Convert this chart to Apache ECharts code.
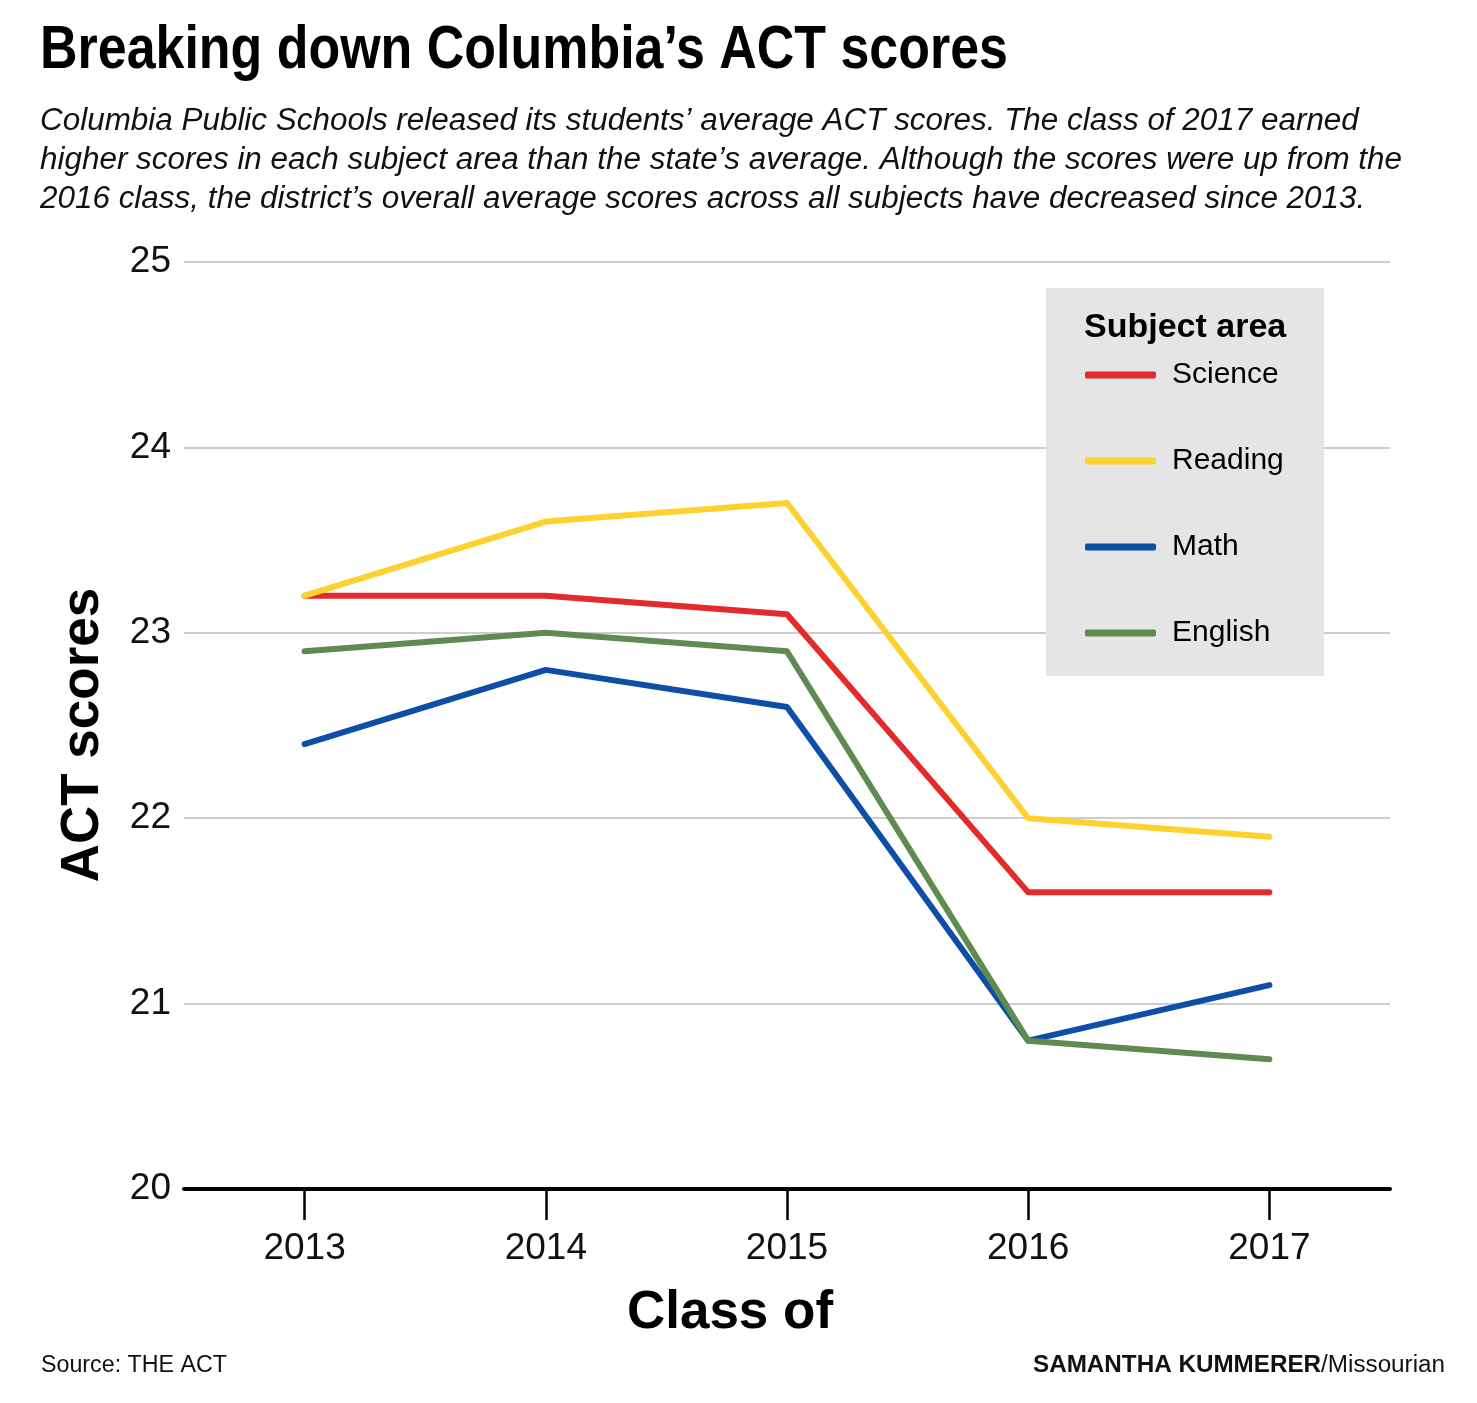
<!DOCTYPE html>
<html>
<head>
<meta charset="utf-8">
<script src="https://cdn.jsdelivr.net/npm/echarts@6/dist/echarts.min.js"></script>
<style>
html,body{margin:0;padding:0;background:#fff;}
#c{width:1477px;height:1403px;}
</style>
</head>
<body>
<div id="c"></div>
<script>
const years = ['2013', '2014', '2015', '2016', '2017'];
const science = [23.2, 23.2, 23.1, 21.6, 21.6];
const reading = [23.2, 23.6, 23.7, 22.0, 21.9];
const math = [22.4, 22.8, 22.6, 20.8, 21.1];
const english = [22.9, 23.0, 22.9, 20.8, 20.7];
const yTicks = [20, 21, 22, 23, 24, 25];

const titleText = 'Breaking down Columbia\u2019s ACT scores';
const subLines = [
  'Columbia Public Schools released its students\u2019 average ACT scores. The class of 2017 earned',
  'higher scores in each subject area than the state\u2019s average. Although the scores were up from the',
  '2016 class, the district\u2019s overall average scores across all subjects have decreased since 2013.'
];
const sourceText = 'Source: THE ACT';
const creditBold = 'SAMANTHA KUMMERER';
const creditRest = '/Missourian';

const SANS = '"Liberation Sans", Arial, sans-serif';

// measure text to compress it horizontally (condensed typeface look)
const mctx = document.createElement('canvas').getContext('2d');
function measure(text, font) { mctx.font = font; return mctx.measureText(text).width; }
function fitScale(text, font, target) { return target / measure(text, font); }

const titleFont = 'bold 61px "Liberation Sans"';
const titleScale = fitScale(titleText, titleFont, 968);
const subFont = 'italic 31px "Liberation Sans"';
const subScale = fitScale(subLines[1], subFont, 1362);
const srcFont = '23px "Liberation Sans"';
const srcScale = fitScale(sourceText, srcFont, 186);
const credW = measure(creditBold, 'bold 23px "Liberation Sans"') + measure(creditRest, srcFont);
const credScale = 412 / credW;

const chart = echarts.init(document.getElementById('c'), null, {renderer: 'canvas'});

function mk(name, data, color) {
  return {
    name: name, type: 'line', data: data, symbol: 'none', smooth: false,
    lineStyle: {color: color, width: 6, cap: 'round', join: 'round'},
    itemStyle: {color: color}, z: 3
  };
}

chart.setOption({
  backgroundColor: '#ffffff',
  animation: false,
  title: [
    {text: 'Subject area', left: 1079, top: 306, z: 6,
     textStyle: {fontFamily: SANS, fontWeight: 'bold', fontSize: 34, color: '#000'}}
  ],
  graphic: [
    {type: 'rect', shape: {x: 1046, y: 288, width: 278, height: 388}, style: {fill: '#e4e5e4'}, z: 1},
    {type: 'text', x: 40, y: 51, scaleX: titleScale, originX: 0,
     style: {text: titleText, font: titleFont, fill: '#000', textAlign: 'left', textVerticalAlign: 'middle'}},
    {type: 'text', x: 40, y: 121, scaleX: subScale,
     style: {text: subLines.join('\n'), font: subFont, lineHeight: 39, fill: '#111', textAlign: 'left', textVerticalAlign: 'top', y: -19}},
    {type: 'text', x: 41, y: 1366, scaleX: srcScale,
     style: {text: sourceText, font: srcFont, fill: '#111', textAlign: 'left', textVerticalAlign: 'middle'}},
    {type: 'text', x: 1445, y: 1366, scaleX: credScale,
     style: {text: '{b|' + creditBold + '}{n|' + creditRest + '}', textAlign: 'right', textVerticalAlign: 'middle',
       rich: {b: {fontFamily: SANS, fontWeight: 'bold', fontSize: 23, fill: '#111'},
              n: {fontFamily: SANS, fontWeight: 'normal', fontSize: 23, fill: '#111'}}}},
    {type: 'text', x: 83, y: 735, rotation: Math.PI / 2,
     style: {text: 'ACT scores', font: 'bold 53px "Liberation Sans"', fill: '#000', textAlign: 'center', textVerticalAlign: 'middle'}},
    {type: 'text', x: 730, y: 1313,
     style: {text: 'Class of', font: 'bold 53px "Liberation Sans"', fill: '#000', textAlign: 'center', textVerticalAlign: 'middle'}}
  ],
  legend: {
    orient: 'vertical', left: 1085, top: 360, padding: 0, z: 6,
    icon: 'roundRect', itemWidth: 71, itemHeight: 7, itemGap: 56,
    data: ['Science', 'Reading', 'Math', 'English'],
    textStyle: {fontFamily: SANS, fontSize: 30, lineHeight: 30, color: '#000', padding: [0, 0, 0, 11]}
  },
  grid: {left: 184, right: 87, top: 262, bottom: 214, containLabel: false},
  xAxis: {
    type: 'category', data: years, boundaryGap: true,
    axisLine: {show: true, lineStyle: {color: '#000', width: 4}},
    axisTick: {show: true, alignWithLabel: true, length: 31, lineStyle: {color: '#000', width: 2.5}},
    axisLabel: {fontFamily: SANS, fontSize: 37, color: '#111', margin: 41},
    splitLine: {show: false}
  },
  yAxis: {
    type: 'value', min: yTicks[0], max: yTicks[yTicks.length - 1], interval: 1,
    axisLine: {show: false}, axisTick: {show: false},
    axisLabel: {fontFamily: SANS, fontSize: 37, color: '#111', margin: 13},
    splitLine: {show: true, lineStyle: {color: '#bdbdbd', width: 1.5}}
  },
  series: [
    mk('Science', science, '#e32b2b'),
    mk('Reading', reading, '#fdd22f'),
    mk('Math', math, '#0e4ea6'),
    mk('English', english, '#5f8a50')
  ]
});
</script>
</body>
</html>
